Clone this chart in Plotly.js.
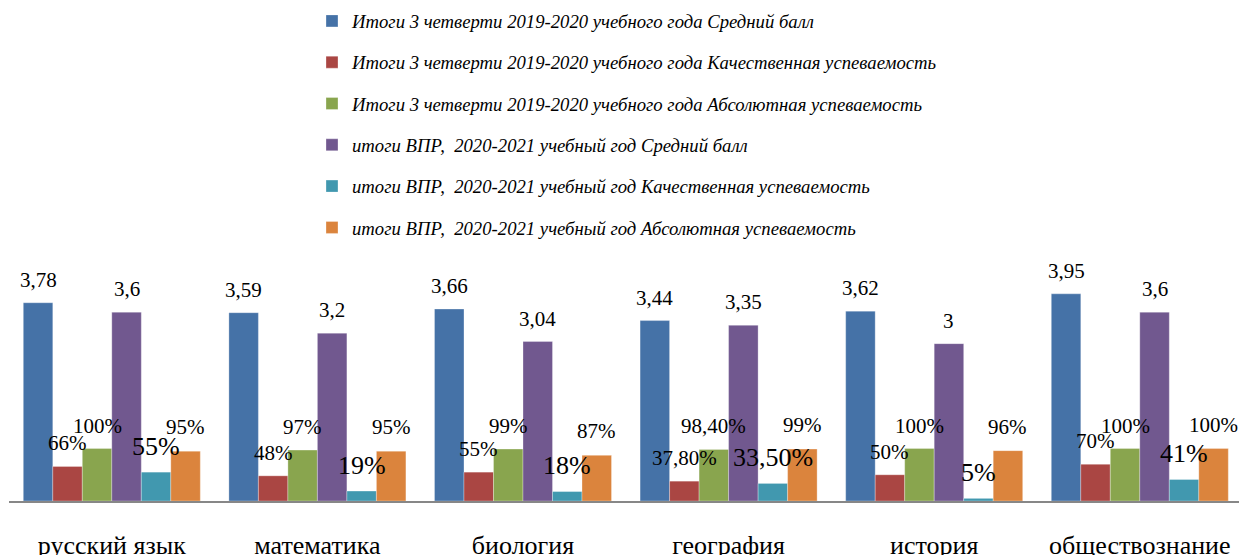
<!DOCTYPE html>
<html><head><meta charset="utf-8">
<script src="https://cdn.plot.ly/plotly-3.0.1.min.js"></script>
<style>html,body{margin:0;padding:0;background:#fff}#chart{width:1239px;height:555px}</style>
</head><body><div id="chart"></div>
<script>
const categories = ["русский язык", "математика", "биология", "география", "история", "обществознание"];

const seriesNames = [
  "Итоги 3 четверти 2019-2020 учебного года Средний балл",
  "Итоги 3 четверти 2019-2020 учебного года Качественная успеваемость",
  "Итоги 3 четверти 2019-2020 учебного года Абсолютная успеваемость",
  "итоги ВПР,  2020-2021 учебный год Средний балл",
  "итоги ВПР,  2020-2021 учебный год Качественная успеваемость",
  "итоги ВПР,  2020-2021 учебный год Абсолютная успеваемость"
];

const q3AvgScore    = [3.78, 3.59, 3.66, 3.44, 3.62, 3.95];
const q3Quality     = [0.66, 0.48, 0.55, 0.378, 0.50, 0.70];
const q3Absolute    = [1.00, 0.97, 0.99, 0.984, 1.00, 1.00];
const vprAvgScore   = [3.6, 3.2, 3.04, 3.35, 3.0, 3.6];
const vprQuality    = [0.55, 0.19, 0.18, 0.335, 0.05, 0.41];
const vprAbsolute   = [0.95, 0.95, 0.87, 0.99, 0.96, 1.00];

const seriesValues = [q3AvgScore, q3Quality, q3Absolute, vprAvgScore, vprQuality, vprAbsolute];
const seriesIsPercent = [false, true, true, false, true, true];
const colors = ["#4572A7", "#AA4643", "#89A54E", "#71588F", "#4198AF", "#DB843D"];
const labelSizes = [21, 21, 21, 21, 26, 21];
const labelLift = [23, 23, 23, 23, 26, 24];

function fmt(v, pct) {
  if (!pct) return String(v).replace('.', ',');
  const p = Math.round(v * 10000) / 100;
  if (Number.isInteger(p)) return p + '%';
  return p.toFixed(2).replace('.', ',') + '%';
}

const W = 1239, H = 555;
const marginL = 9, marginR = 0, marginT = 260, marginB = 54;
const catPx = 205.6;
const bargap = 0.139;
const barPx = catPx * (1 - bargap) / seriesValues.length;
const xMax = -0.5 + (W - marginL - marginR) / catPx;
const yMax = (H - marginT - marginB) / 52.45;

const serif = "'Liberation Serif', 'Times New Roman', Times, serif";

const traces = seriesValues.map((vals, i) => ({
  type: 'bar',
  name: seriesNames[i],
  legendgroup: 'g' + i,
  x: categories,
  y: vals,
  marker: {color: colors[i], line: {width: 0.6, color: 'rgba(255,255,255,0.5)'}},
  hoverinfo: 'skip'
}));

const annotations = [];
seriesValues.forEach((vals, i) => {
  vals.forEach((v, c) => {
    annotations.push({
      x: categories[c], y: v, xref: 'x', yref: 'y',
      text: fmt(v, seriesIsPercent[i]),
      showarrow: false,
      xshift: (i - (seriesValues.length - 1) / 2) * barPx,
      yshift: labelLift[i],
      xanchor: 'center', yanchor: 'middle',
      font: {family: serif, size: labelSizes[i], color: '#000'}
    });
  });
});

const layout = {
  width: W, height: H,
  font: {family: serif},
  margin: {l: marginL, r: marginR, t: marginT, b: marginB, pad: 0, autoexpand: false},
  paper_bgcolor: '#fff', plot_bgcolor: '#fff',
  barmode: 'group', bargap: bargap, bargroupgap: 0,
  showlegend: true,
  legend: {
    orientation: 'v',
    xref: 'container', yref: 'container',
    x: 312 / W, y: 0.996, xanchor: 'left', yanchor: 'top',
    font: {family: serif, size: 18.7, color: '#000', style: 'italic'},
    traceorder: 'grouped',
    tracegroupgap: 14,
    bgcolor: 'rgba(0,0,0,0)'
  },
  xaxis: {
    type: 'category', range: [-0.5, xMax],
    showline: true, linecolor: '#878787', linewidth: 1.5,
    showgrid: false, zeroline: false, ticks: '',
    ticklabelstandoff: 20,
    tickfont: {family: serif, size: 26, color: '#000'}
  },
  yaxis: {visible: false, range: [0, yMax], showgrid: false, zeroline: false},
  annotations: annotations
};

Plotly.newPlot('chart', traces, layout, {displayModeBar: false, staticPlot: true});
</script>
</body></html>
